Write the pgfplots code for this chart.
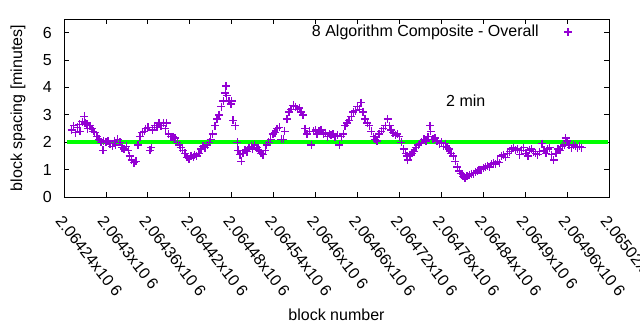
\documentclass[border=0pt]{standalone}
\usepackage{pgfplots}
\pgfplotsset{compat=1.18}
\usepackage{fontspec}
\setmainfont{Liberation Sans}
\definecolor{gpviolet}{HTML}{9400D3}
\definecolor{gpgreen}{HTML}{00FF00}
\pgfplotstableread{
x y
2064251 2.45
2064254 2.60
2064256 2.35
2064259 2.55
2064262 2.65
2064263 2.40
2064266 2.75
2064269 2.95
2064270 2.70
2064273 2.65
2064274 2.50
2064277 2.60
2064280 2.50
2064282 2.40
2064284 2.35
2064287 2.20
2064290 2.10
2064293 2.00
2064296 1.70
2064297 2.05
2064300 2.00
2064303 2.05
2064306 1.95
2064309 1.85
2064312 2.05
2064314 1.90
2064317 2.10
2064320 2.00
2064323 1.80
2064326 1.75
2064329 1.85
2064332 1.70
2064334 1.50
2064337 1.35
2064340 1.25
2064343 1.30
2064346 1.90
2064349 2.20
2064352 2.35
2064355 2.40
2064357 2.50
2064360 2.55
2064363 1.70
2064365 1.80
2064367 2.45
2064370 2.60
2064373 2.55
2064376 2.70
2064379 2.60
2064382 2.70
2064385 2.50
2064387 2.70
2064390 2.30
2064393 2.20
2064396 2.20
2064399 2.15
2064402 2.00
2064405 1.90
2064407 1.80
2064410 1.70
2064413 1.60
2064416 1.45
2064419 1.40
2064422 1.50
2064425 1.45
2064427 1.55
2064430 1.50
2064433 1.60
2064436 1.75
2064439 1.85
2064442 1.80
2064445 1.90
2064448 2.00
2064450 2.10
2064453 2.30
2064456 2.60
2064459 2.85
2064462 3.00
2064465 3.30
2064468 3.50
2064471 3.80
2064472 4.05
2064473 3.70
2064476 3.50
2064479 3.40
2064480 3.50
2064482 2.80
2064485 2.60
2064488 2.00
2064489 1.70
2064492 1.55
2064494 1.30
2064496 1.60
2064499 1.70
2064502 1.65
2064505 1.80
2064508 1.85
2064510 1.75
2064513 1.90
2064516 1.80
2064519 1.70
2064522 1.60
2064525 1.55
2064528 1.70
2064530 1.90
2064533 2.00
2064536 2.10
2064539 2.30
2064542 2.35
2064545 2.50
2064548 2.55
2064551 2.10
2064554 2.10
2064556 2.40
2064559 2.85
2064562 3.10
2064565 3.20
2064568 3.35
2064571 3.30
2064574 3.20
2064577 3.25
2064579 3.10
2064582 3.00
2064585 2.50
2064588 2.30
2064591 2.40
2064594 1.90
2064597 2.40
2064600 2.45
2064602 2.30
2064605 2.40
2064608 2.45
2064611 2.30
2064614 2.35
2064617 2.20
2064620 2.30
2064622 2.25
2064625 2.30
2064628 2.20
2064631 2.25
2064634 1.90
2064637 2.20
2064640 2.30
2064642 2.60
2064645 2.70
2064648 2.80
2064651 2.95
2064654 3.10
2064657 3.15
2064660 3.30
2064663 3.20
2064665 3.45
2064668 3.10
2064671 2.85
2064674 2.70
2064677 2.60
2064680 2.40
2064683 2.20
2064685 2.10
2064688 2.05
2064691 2.30
2064694 2.40
2064697 2.50
2064700 2.60
2064703 2.85
2064706 2.60
2064708 2.45
2064711 2.35
2064714 2.25
2064717 2.30
2064720 2.20
2064723 2.00
2064726 1.75
2064729 1.60
2064731 1.50
2064732 1.35
2064735 1.55
2064738 1.60
2064741 1.65
2064744 1.80
2064747 1.90
2064749 1.95
2064752 2.00
2064755 2.10
2064758 2.05
2064761 2.20
2064764 2.60
2064765 2.40
2064768 2.10
2064771 2.15
2064774 2.05
2064777 1.95
2064780 2.00
2064783 1.85
2064786 1.95
2064788 1.80
2064791 1.75
2064794 1.60
2064797 1.50
2064800 1.30
2064803 1.10
2064806 0.95
2064808 0.85
2064811 0.75
2064814 0.70
2064817 0.75
2064820 0.80
2064823 0.85
2064826 0.85
2064829 0.90
2064832 0.95
2064834 1.00
2064837 1.00
2064840 1.05
2064843 1.10
2064846 1.15
2064849 1.10
2064852 1.20
2064855 1.25
2064858 1.20
2064860 1.30
2064863 1.25
2064866 1.50
2064869 1.55
2064872 1.45
2064875 1.60
2064878 1.65
2064880 1.75
2064883 1.80
2064886 1.70
2064889 1.75
2064892 1.55
2064895 1.70
2064898 1.80
2064901 1.60
2064904 1.50
2064906 1.70
2064909 1.75
2064912 1.65
2064915 1.60
2064918 1.55
2064921 1.65
2064924 1.95
2064927 1.70
2064930 1.60
2064932 1.75
2064935 1.80
2064938 1.55
2064941 1.35
2064944 1.60
2064947 1.75
2064950 1.70
2064953 1.85
2064956 1.90
2064958 2.15
2064960 2.05
2064963 1.90
2064966 1.80
2064969 1.90
2064972 1.85
2064975 1.80
2064978 1.85
2064981 1.80
}\blocks
\begin{document}
\fontsize{12pt}{14pt}\selectfont
\begin{tikzpicture}
\begin{axis}[
  at={(48pt,99.75pt)}, anchor=south west,
  scale only axis, width=408.75pt, height=133.5pt,
  xmin=2064240, xmax=2065020, ymin=0, ymax=6.5,
  scaled x ticks=false, scaled y ticks=false,
  xtick={2064240,2064300,2064360,2064420,2064480,2064540,2064600,2064660,2064720,2064780,2064840,2064900,2064960,2065020},
  xticklabels={2.06424x10 6,2.0643x10 6,2.06436x10 6,2.06442x10 6,2.06448x10 6,2.06454x10 6,2.0646x10 6,2.06466x10 6,2.06472x10 6,2.06478x10 6,2.06484x10 6,2.0649x10 6,2.06496x10 6,2.06502x10 6},
  ytick={0,1,2,3,4,5,6},
  minor tick num=0,
  tick align=inside, major tick length=4pt,
  tick style={black, line width=0.6pt},
  axis line style={black, line width=0.6pt},
  /pgf/number format/assume math mode=true,
  ticklabel style={font=\fontsize{12pt}{14pt}\selectfont},
  xticklabel style={xshift=-7pt, yshift=-18pt, rotate=-52, anchor=base west, inner sep=0pt},
  yticklabel style={xshift=-5pt},
  xlabel={block number},
  ylabel={block spacing [minutes]},
  xlabel style={at={(axis description cs:0.5,-0.663)}, anchor=center},
  ylabel style={at={(axis description cs:-0.0844,0.5)}, anchor=center},
  label style={font=\fontsize{12pt}{14pt}\selectfont},
  legend plot pos=right,
  legend cell align=right,
  legend style={draw=none, fill=none, at={(axis description cs:0.940,0.927)}, anchor=east, font=\fontsize{12pt}{14pt}\selectfont,
    /tikz/every odd column/.append style={column sep=17pt}},
  clip=true,
]
\addplot[only marks, mark=+, mark size=3pt, gpviolet, line width=1pt] table[x=x,y=y]{\blocks};
\addlegendentry{8 Algorithm Composite - Overall}
\addplot[gpgreen, line width=3pt, forget plot] coordinates {(2064244,2) (2065018,2)};
\node at (axis cs:2064815,3.5) {2 min};
\end{axis}
\pgfresetboundingbox
\path[use as bounding box] (0,0) rectangle (480pt,247.5pt);
\end{tikzpicture}
\end{document}
